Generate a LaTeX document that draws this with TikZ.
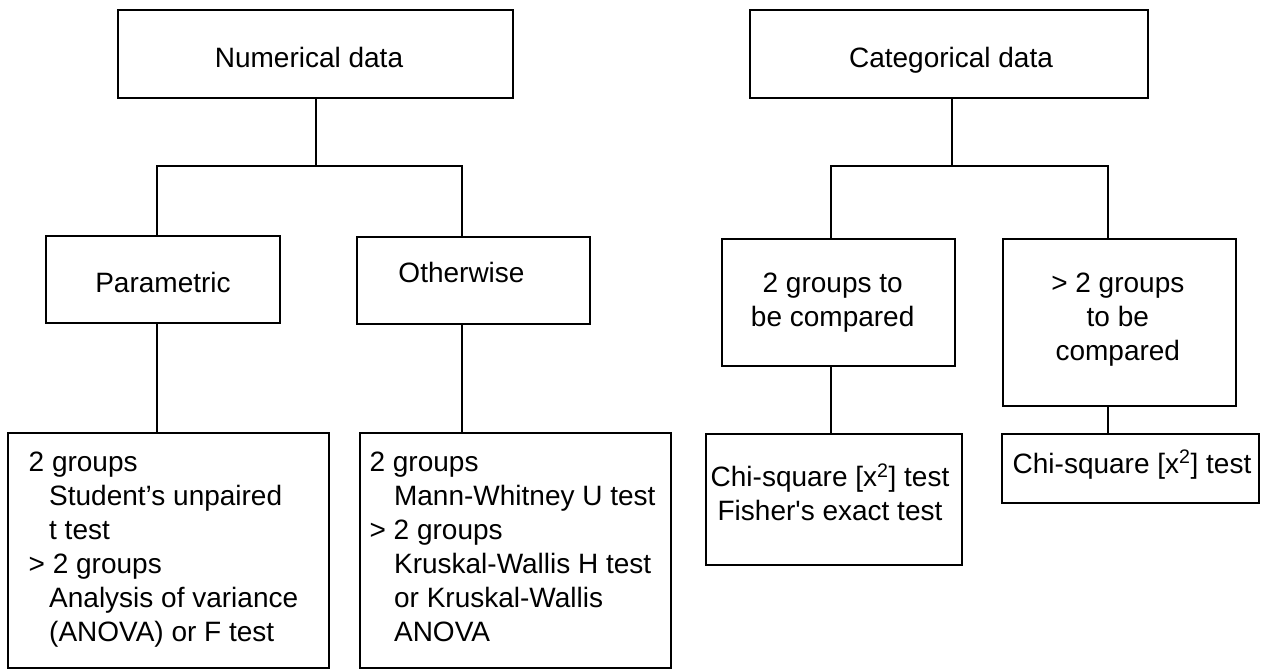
\documentclass[tikz,border=0pt]{standalone}
\usepackage{fontspec}
\setmainfont{Liberation Sans}
\usetikzlibrary{fit}
\tikzset{
  box/.style={draw=black, line width=2pt, inner sep=0pt, rectangle},
  topbox/.style={box, line width=2.6pt},
  txt/.style={inner sep=0pt, font=\fontsize{28}{34}\selectfont},
  conn/.style={draw=black, line width=2pt, line join=miter},
}
\begin{document}
\begin{tikzpicture}[x=1pt,y=-1pt]
\useasboundingbox[fill=white] (0,0) rectangle (1269,670);
% boxes
\node[topbox, fit={(118,10) (513,98)}] (num) {};
\node[topbox, fit={(750,10) (1148,98)}] (cat) {};
\node[box, fit={(46,236) (280,323)}] (par) {};
\node[box, fit={(357,237) (590,324)}] (oth) {};
\node[box, fit={(722,239) (955,366)}] (g2) {};
\node[box, fit={(1003,239) (1236,406)}] (g3) {};
\node[box, fit={(8,433) (329,668)}] (lt) {};
\node[box, fit={(360,433) (671,668)}] (mt) {};
\node[box, fit={(706,434) (962,565)}] (chi1) {};
\node[box, fit={(1002,434) (1259,503)}] (chi2) {};
% texts
\node[txt, anchor=base] (numt) at (309,67) {Numerical data};
\node[txt, anchor=base] (catt) at (951,67) {Categorical data};
\node[txt, anchor=base] (part) at (163,292) {Parametric};
\node[txt, anchor=base] (otht) at (461.5,282) {Otherwise};
\node[txt, align=center] (g2t) at (832.7,302.5) {2 groups to\\be compared};
\node[txt, align=center] (g3t) at (1117.8,319.5) {> 2 groups\\to be\\compared};
\node[txt, align=center] (chi1t) at (830,492.3) {Chi-square [x\textsuperscript{2}] test\\Fisher\textquotesingle s exact test};
\node[txt, anchor=base] (chi2t) at (1132,473) {Chi-square [x\textsuperscript{2}] test};
\node[txt, align=left, anchor=west] (ltt) at (28.5,549.8) {2 groups\\\hspace*{20.5pt}Student’s unpaired\\\hspace*{20.5pt}t test\\> 2 groups\\\hspace*{20.5pt}Analysis of variance\\\hspace*{20.5pt}(ANOVA) or F test};
\node[txt, align=left, anchor=west] (mtt) at (369.4,547) {2 groups\\\hspace*{24.5pt}Mann-Whitney U test\\> 2 groups\\\hspace*{24.5pt}Kruskal-Wallis H test\\\hspace*{24.5pt}or Kruskal-Wallis\\\hspace*{24.5pt}ANOVA};
% junction coordinates
\coordinate (nj) at (315.5,166);
\coordinate (pl) at (157,166);
\coordinate (pr) at (462,166);
\coordinate (cj) at (952,166);
\coordinate (cl) at (831,166);
\coordinate (cr) at (1108,166);
% connectors
\draw[conn] (num.south -| nj) -- (nj);
\draw[conn] (par.north -| pl) -- (pl) -- (pr) -- (oth.north -| pr);
\draw[conn] (par.south -| pl) -- (lt.north -| pl);
\draw[conn] (oth.south -| pr) -- (mt.north -| pr);
\draw[conn] (cat.south -| cj) -- (cj);
\draw[conn] (g2.north -| cl) -- (cl) -- (cr) -- (g3.north -| cr);
\draw[conn] (g2.south -| cl) -- (chi1.north -| cl);
\draw[conn] (g3.south -| cr) -- (chi2.north -| cr);
\end{tikzpicture}
\end{document}
